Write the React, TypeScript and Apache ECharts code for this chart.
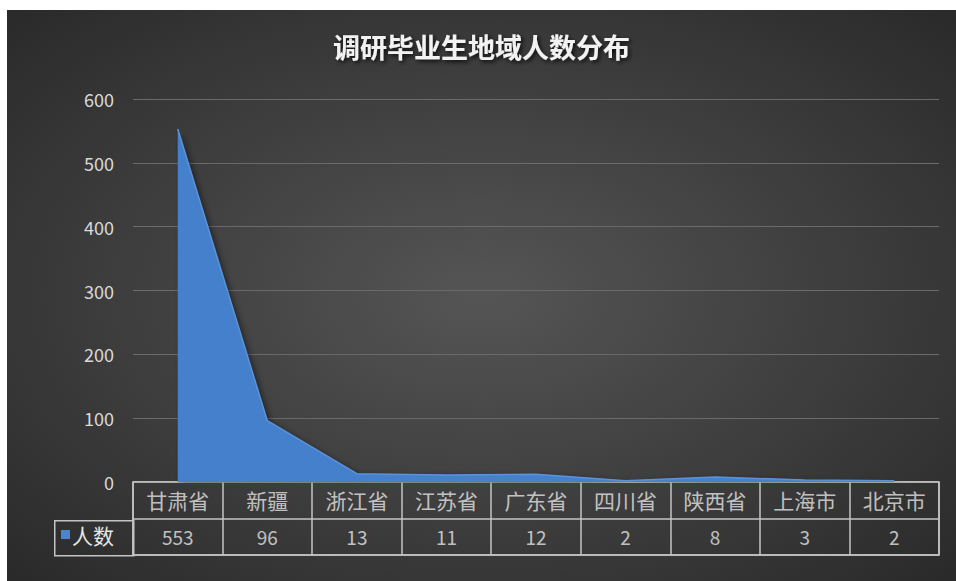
import React, { useEffect, useRef } from "react";
import * as echarts from "echarts";

const title = "调研毕业生地域人数分布";
const categories = ["甘肃省", "新疆", "浙江省", "江苏省", "广东省", "四川省", "陕西省", "上海市", "北京市"];
const values = [553, 96, 13, 11, 12, 2, 8, 3, 2];
const seriesName = "人数";
const yTicks = { min: 0, max: 600, interval: 100 };

const FONT = "'Noto Sans CJK SC', 'Open Sans', sans-serif";

export default function App() {
  const ref = useRef<HTMLDivElement>(null);
  useEffect(() => {
    if (!ref.current) return;
    const chart = echarts.init(ref.current, undefined, { renderer: "svg" });
    const tableData: any[] = [];
    categories.forEach((c, i) => {
      tableData.push({ value: [c, "名"], label: { formatter: c, fontSize: 21 } });
      tableData.push({ value: [c, "值"], label: { formatter: String(values[i]), fontSize: 19 } });
    });
    chart.setOption({
      animation: false,
      backgroundColor: {
        type: "radial",
        x: 0.5,
        y: 0.5,
        r: 0.75,
        colorStops: [
          { offset: 0, color: "#555555" },
          { offset: 1, color: "#272727" },
        ],
      },
      title: {
        text: title,
        left: "center",
        top: 18,
        textStyle: {
          color: "#f2f2f2",
          fontSize: 27,
          fontWeight: "bold",
          fontFamily: FONT,
          textShadowColor: "rgba(0,0,0,0.8)",
          textShadowBlur: 4,
          textShadowOffsetX: 2,
          textShadowOffsetY: 2,
        },
      },
      legend: {
        data: [seriesName],
        left: 54,
        top: 514,
        padding: 0,
        icon: "rect",
        itemWidth: 9,
        itemHeight: 9,
        itemGap: 2,
        textStyle: { color: "#e6e6e6", fontSize: 21, fontFamily: FONT, padding: [0, 0, 0, -3] },
      },
      grid: [
        { left: 126, right: 17, top: 89, height: 383, containLabel: false },
        {
          left: 126,
          right: 17,
          top: 472,
          height: 73,
          show: true,
          borderColor: "#c4c4c4",
          borderWidth: 1.5,
          backgroundColor: "transparent",
        },
      ],
      xAxis: [
        { type: "category", gridIndex: 0, data: categories, boundaryGap: true, show: false },
        {
          type: "category",
          gridIndex: 1,
          data: categories,
          boundaryGap: true,
          axisLine: { show: false },
          axisTick: { show: false },
          axisLabel: { show: false },
          splitLine: { show: true, lineStyle: { color: "#c4c4c4", width: 1.5 } },
        },
      ],
      yAxis: [
        {
          type: "value",
          gridIndex: 0,
          min: yTicks.min,
          max: yTicks.max,
          interval: yTicks.interval,
          axisLine: { show: false },
          axisTick: { show: false },
          axisLabel: { color: "#d9d9d9", fontSize: 18, fontFamily: FONT, margin: 19 },
          splitLine: { lineStyle: { color: "#6a6a6a", width: 1 } },
        },
        {
          type: "category",
          gridIndex: 1,
          data: ["值", "名"],
          axisLine: { show: false },
          axisTick: { show: false },
          axisLabel: { show: false },
          splitLine: { show: true, lineStyle: { color: "#c4c4c4", width: 1.5 } },
        },
      ],
      graphic: [
        {
          type: "rect",
          left: 47,
          top: 510,
          shape: { width: 79, height: 35 },
          style: { fill: "transparent", stroke: "#c4c4c4", lineWidth: 1.5 },
        },
      ],
      series: [
        {
          name: seriesName,
          type: "line",
          xAxisIndex: 0,
          yAxisIndex: 0,
          data: values,
          symbol: "none",
          itemStyle: { color: "#4a85d0" },
          lineStyle: { color: "#5a93dc", width: 1.5 },
          areaStyle: {
            color: "#4580cc",
            opacity: 1,
            shadowColor: "rgba(0,0,0,0.5)",
            shadowBlur: 6,
            shadowOffsetX: 3,
            shadowOffsetY: 2,
          },
          z: 3,
        },
        {
          name: "table",
          type: "scatter",
          xAxisIndex: 1,
          yAxisIndex: 1,
          data: tableData,
          symbolSize: 1,
          itemStyle: { color: "transparent" },
          label: {
            show: true,
            position: "inside",
            color: "#e6e6e6",
            fontFamily: FONT,
          },
          silent: true,
        },
      ],
    });
    return () => chart.dispose();
  }, []);
  return (
    <div style={{ position: "fixed", left: 0, top: 0, width: 956, height: 581, background: "#fff" }}>
      <div ref={ref} style={{ position: "absolute", left: 7, top: 10, width: 949, height: 571 }} />
    </div>
  );
}
